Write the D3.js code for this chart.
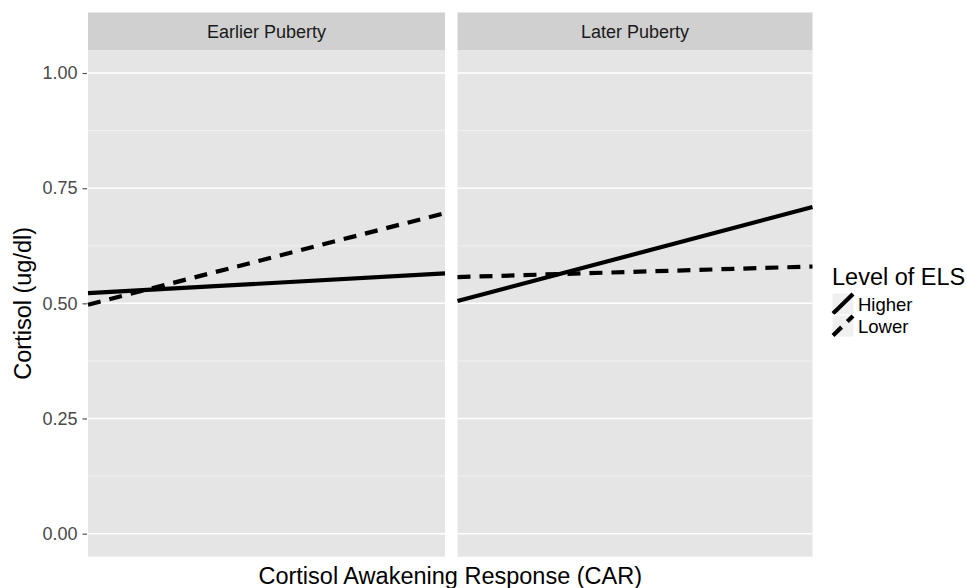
<!DOCTYPE html>
<html><head><meta charset="utf-8">
<script src="https://cdn.jsdelivr.net/npm/d3@7"></script>
<style>body{margin:0;background:#fff;} svg{display:block;font-family:"Liberation Sans",Arial,sans-serif;}</style>
</head><body><svg id="c" width="966" height="588"></svg>
<script>
const facets = ["Earlier Puberty", "Later Puberty"];
const groups = ["Higher", "Lower"];
const carValues = [-1, 1];
const earlierHigher = [0.522, 0.565];
const earlierLower = [0.497, 0.696];
const laterHigher = [0.505, 0.709];
const laterLower = [0.557, 0.580];
const yTicks = [0, 0.25, 0.5, 0.75, 1.0];
const yMinor = [0.125, 0.375, 0.625, 0.875];
const yTickLabels = ["0.00", "0.25", "0.50", "0.75", "1.00"];
const seriesByFacet = [[earlierHigher, earlierLower], [laterHigher, laterLower]];
const dashes = {"Higher": null, "Lower": "13,9"};
const keyDashes = {"Higher": null, "Lower": "12,8"};

const svg = d3.select("#c");
const panelX = [[88, 445], [457.5, 812.5]];
const panelTop = 50, panelBottom = 556.7, stripTop = 12.5;
const y = d3.scaleLinear().domain([-0.05, 1.05]).range([panelBottom, panelTop]);

facets.forEach((f, i) => {
  const [x0, x1] = panelX[i];
  const x = d3.scaleLinear().domain(d3.extent(carValues)).range([x0, x1]);
  const g = svg.append("g");
  g.append("rect").attr("x", x0).attr("y", stripTop).attr("width", x1 - x0).attr("height", panelTop - stripTop).attr("fill", "#d0d0d0");
  g.append("text").attr("x", (x0 + x1) / 2).attr("y", (stripTop + panelTop) / 2 + 6.5).attr("text-anchor", "middle")
    .attr("font-size", 18).attr("fill", "#1a1a1a").text(f);
  g.append("rect").attr("x", x0).attr("y", panelTop).attr("width", x1 - x0).attr("height", panelBottom - panelTop).attr("fill", "#e5e5e5");
  g.selectAll(".minor").data(yMinor).join("line").attr("x1", x0).attr("x2", x1)
    .attr("y1", d => y(d)).attr("y2", d => y(d)).attr("stroke", "#f2f2f2").attr("stroke-width", 1);
  g.selectAll(".major").data(yTicks).join("line").attr("x1", x0).attr("x2", x1)
    .attr("y1", d => y(d)).attr("y2", d => y(d)).attr("stroke", "#ffffff").attr("stroke-width", 1.5);
  const line = d3.line().x((d, j) => x(carValues[j])).y(d => y(d));
  seriesByFacet[i].forEach((vals, k) => {
    const p = g.append("path").attr("d", line(vals)).attr("fill", "none").attr("stroke", "#000").attr("stroke-width", 4.2);
    if (dashes[groups[k]]) p.attr("stroke-dasharray", dashes[groups[k]]);
  });
});

// y axis
const yAxis = d3.axisLeft(y).tickValues(yTicks).tickFormat((d, i) => yTickLabels[i]).tickSize(4.5).tickPadding(5);
const ya = svg.append("g").attr("transform", `translate(${panelX[0][0] - 1},0)`).call(yAxis);
ya.select(".domain").remove();
ya.selectAll(".tick line").attr("stroke", "#555").attr("stroke-width", 1.2);
ya.selectAll(".tick text").attr("font-size", 18).attr("fill", "#4a4a4a").attr("font-family", "Liberation Sans, Arial, sans-serif");

// axis titles
svg.append("text").attr("transform", `translate(31,${(panelTop + panelBottom) / 2}) rotate(-90)`).attr("text-anchor", "middle")
  .attr("font-size", 23.5).attr("fill", "#000").text("Cortisol (ug/dl)");
svg.append("text").attr("x", (panelX[0][0] + panelX[1][1]) / 2).attr("y", 584).attr("text-anchor", "middle")
  .attr("font-size", 23.5).attr("fill", "#000").text("Cortisol Awakening Response (CAR)");

// legend
const lg = svg.append("g");
lg.append("text").attr("x", 832).attr("y", 285).attr("font-size", 23.5).attr("fill", "#000").text("Level of ELS");
const ks = 22;
groups.forEach((gname, k) => {
  const ky = 293 + k * ks;
  lg.append("rect").attr("x", 832).attr("y", ky).attr("width", ks).attr("height", ks).attr("fill", "#f0f0f0").attr("stroke", "#fff");
  const l = lg.append("line").attr("x1", 833).attr("y1", ky + ks - 1.5).attr("x2", 832 + ks - 1).attr("y2", ky + 1)
    .attr("stroke", "#000").attr("stroke-width", 4.2);
  if (keyDashes[gname]) l.attr("stroke-dasharray", keyDashes[gname]);
  lg.append("text").attr("x", 858).attr("y", ky + 18).attr("font-size", 18.5).attr("fill", "#000").text(gname);
});
</script></body></html>
